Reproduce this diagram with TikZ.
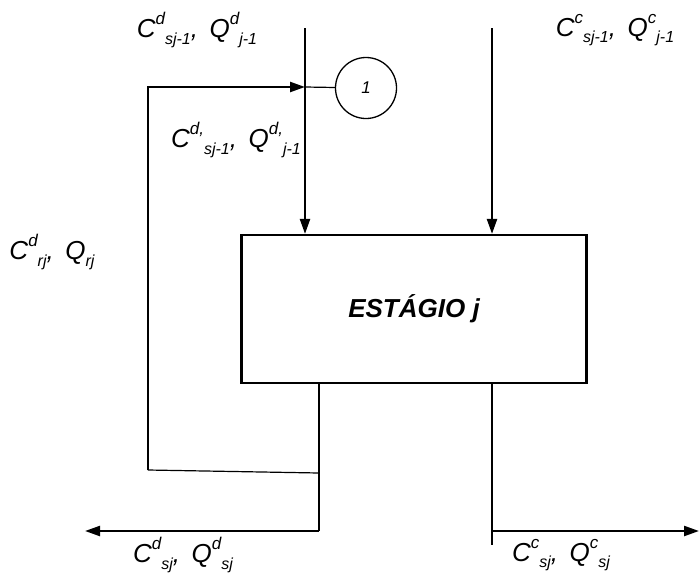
\documentclass[tikz,border=0pt]{standalone}
\usepackage{fontspec}
\setmainfont{Liberation Sans}
\usepackage{tikz}
\usetikzlibrary{arrows.meta,positioning}

% raised and lowered indices, set one after the other as in the original
\newcommand{\upidx}[1]{\raisebox{0.5em}{\fontsize{17}{17}\selectfont #1}}
\newcommand{\dnidx}[1]{\raisebox{-0.25em}{\fontsize{16}{16}\selectfont #1}}

\begin{document}
\begin{tikzpicture}[
  x=1pt, y=-1pt,
  >={Triangle[length=15pt,width=10pt]},
  font=\fontsize{26}{28}\selectfont\itshape,
  stagebox/.style={draw, line width=2.2pt, minimum width=345pt, minimum height=148pt,
                   font=\fontsize{26}{28}\selectfont\bfseries\itshape},
  tag/.style ={draw, circle, line width=1.3pt, minimum size=61pt, inner sep=0pt,
               font=\fontsize{17}{18}\selectfont\itshape},
  flow/.style ={line width=2.3pt},
  thin/.style ={line width=1.2pt},
  lbl/.style  ={inner sep=1pt}
]
    \useasboundingbox (0,0) rectangle (699,574);

    % Stage and mixing point
    \node[stagebox] (stage) at (414,309) {ESTÁGIO j};
    \node[tag]      (one)   at (366,88)  {1};

    % Feed and product points
    \coordinate (dtop)  at (305,28);
    \coordinate (dmix)  at (305,58);
    \coordinate (djoin) at (305,87);
    \coordinate (ctop)  at (492,28);
    \coordinate (rtop)  at (148,87);
    \coordinate (rbot)  at (148,470);
    \coordinate (dsplit) at (319,473);
    \coordinate (dend)  at (319,531);
    \coordinate (dout)  at (85,531);
    \coordinate (cend)  at (492,545);
    \coordinate (cjoin) at (492,531);
    \coordinate (cout)  at (699,531);

    % Inputs from stage j-1
    \draw[thin] (dtop) -- (dmix);
    \draw[flow,->] (dmix) -- (stage.north -| dmix);
    \draw[flow,->] (ctop) -- (stage.north -| ctop);
    \draw[thin] (djoin) -- (one);

    % Recycle loop
    \draw[flow,->] (rbot) -- (rtop) -- (djoin);
    \draw[thin] (rbot) -- (dsplit);

    % Outputs of stage j
    \draw[thin] (stage.south -| dend) -- (dend);
    \draw[flow,->] (dend) -- (dout);
    \draw[thin] (stage.south -| cend) -- (cend);
    \draw[flow,->] (cjoin) -- (cout);

    % Stream labels
    \node[lbl] (ldin)  at (197,30)  {C\upidx{d}\dnidx{sj-1},\, Q\upidx{d}\dnidx{j-1}};
    \node[lbl] (lcin)  at (615,30)  {C\upidx{c}\dnidx{sj-1},\, Q\upidx{c}\dnidx{j-1}};
    \node[lbl] (ldmix) at (236,140) {C\upidx{d,}\dnidx{sj-1},\, Q\upidx{d,}\dnidx{j-1}};
    \node[lbl] (lrec)  at (52,252)  {C\upidx{d}\dnidx{rj},\, Q\dnidx{rj}};
    \node[lbl] (ldout) at (183,555) {C\upidx{d}\dnidx{sj},\, Q\upidx{d}\dnidx{sj}};
    \node[lbl] (lcout) at (561,555) {C\upidx{c}\dnidx{sj},\, Q\upidx{c}\dnidx{sj}};
\end{tikzpicture}
\end{document}
